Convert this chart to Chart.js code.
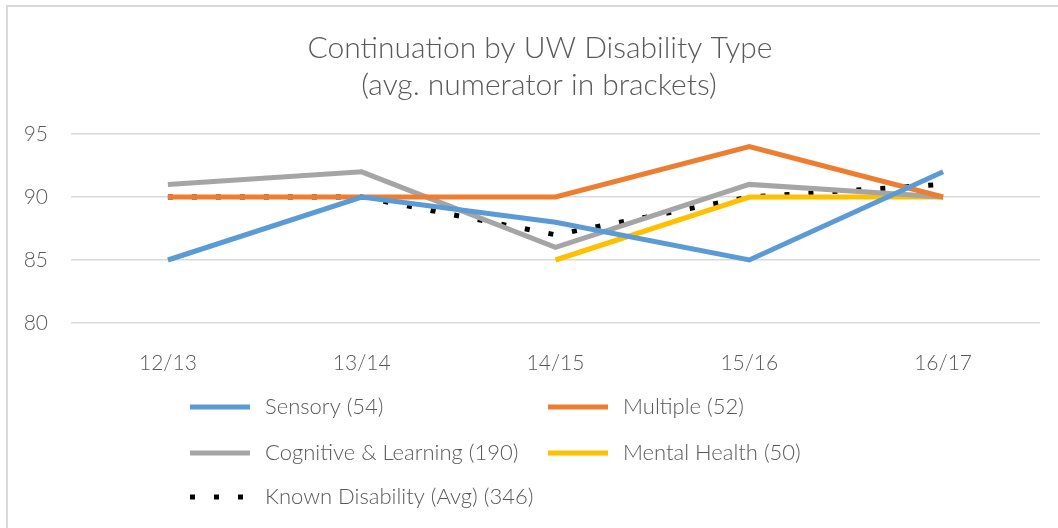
<!DOCTYPE html>
<html>
<head>
<meta charset="utf-8">
<script src="https://cdn.jsdelivr.net/npm/chart.js@4"></script>
<style>
  html, body { margin: 0; padding: 0; background: #fff; }
  #wrap { width: 1058px; height: 528px; }
</style>
</head>
<body>
<div id="wrap"><canvas id="lineChart" width="1058" height="528"></canvas></div>
<script>
// data
var years = ['12/13', '13/14', '14/15', '15/16', '16/17'];
var sensory = [85, 90, 88, 85, 92];
var multiple = [90, 90, 90, 94, 90];
var cognitive = [91, 92, 86, 91, 90];
var mental = [null, null, 85, 90, 90];
var known = [90, 90, 87, 90, 91];
var series_names = ['Sensory (54)', 'Multiple (52)', 'Cognitive & Learning (190)', 'Mental Health (50)', 'Known Disability (Avg) (346)'];
var title_lines = ['Continuation by UW Disability Type', '(avg. numerator in brackets)'];
var y_ticks = [80, 85, 90, 95];

var FONT = 'Lato, "Open Sans", sans-serif';
var TXT = '#595959';

// frame, title and a two column legend drawn by hand
var framePlugin = {
    id: 'frame',
    beforeDraw: function (chart) {
        var ctx = chart.ctx;
        ctx.save();
        ctx.strokeStyle = '#d9d9d9';
        ctx.lineWidth = 2;
        ctx.beginPath();
        ctx.moveTo(7, 530);
        ctx.lineTo(7, 6);
        ctx.lineTo(1060, 6);
        ctx.stroke();
        ctx.restore();
    },
    afterDraw: function (chart) {
        var ctx = chart.ctx;
        ctx.save();
        ctx.fillStyle = TXT;
        ctx.textAlign = 'center';
        ctx.textBaseline = 'middle';
        ctx.font = '300 30px ' + FONT;
        ctx.fillText(title_lines[0], 540, 48);
        ctx.fillText(title_lines[1], 539, 85);

        var pos = [[190, 407], [548, 407], [190, 453], [548, 453], [190, 497]];
        ctx.textAlign = 'left';
        chart.data.datasets.forEach(function (ds, i) {
            var x = pos[i][0], y = pos[i][1];
            ctx.strokeStyle = ds.borderColor;
            ctx.lineWidth = 5;
            ctx.lineCap = 'butt';
            ctx.setLineDash(ds.borderDash || []);
            ctx.beginPath();
            ctx.moveTo(x, y);
            ctx.lineTo(x + 60, y);
            ctx.stroke();
            ctx.setLineDash([]);
            ctx.fillStyle = TXT;
            ctx.font = '300 22px ' + FONT;
            ctx.fillText(ds.label, x + 75, y);
        });
        ctx.restore();
    }
};

function mkSet(label, data, color, dash) {
    return {
        label: label,
        data: data,
        borderColor: color,
        backgroundColor: color,
        borderWidth: 5,
        borderDash: dash,
        borderCapStyle: 'butt',
        pointRadius: 0,
        pointHoverRadius: 0,
        tension: 0,
        spanGaps: false
    };
}

var chart = new Chart(document.getElementById('lineChart'), {
    type: 'line',
    data: {
        labels: years,
        datasets: [
            mkSet(series_names[0], sensory, '#5b9bd5'),
            mkSet(series_names[1], multiple, '#ed7d31'),
            mkSet(series_names[2], cognitive, '#a5a5a5'),
            mkSet(series_names[3], mental, '#ffc000'),
            mkSet(series_names[4], known, '#000000', [5, 19])
        ]
    },
    options: {
        responsive: false,
        animation: false,
        layout: {
            padding: { left: 0, right: 18, top: 134, bottom: 145 }
        },
        plugins: {
            legend: { display: false },
            tooltip: { enabled: false },
            title: { display: false }
        },
        scales: {
            x: {
                offset: true,
                grid: { display: false },
                border: { display: false },
                ticks: {
                    color: TXT,
                    font: { family: FONT, size: 21, weight: 300 },
                    padding: 20
                },
                afterFit: function (scale) { scale.height = 60; }
            },
            y: {
                min: 80,
                max: 95,
                afterBuildTicks: function (scale) {
                    scale.ticks = y_ticks.map(function (v) { return { value: v }; });
                },
                grid: { color: '#d9d9d9', lineWidth: 1.5, drawTicks: false },
                border: { display: false },
                ticks: {
                    color: TXT,
                    font: { family: FONT, size: 21, weight: 300 },
                    padding: 23
                },
                afterFit: function (scale) { scale.width = 71; }
            }
        }
    },
    plugins: [framePlugin]
});
</script>
</body>
</html>
